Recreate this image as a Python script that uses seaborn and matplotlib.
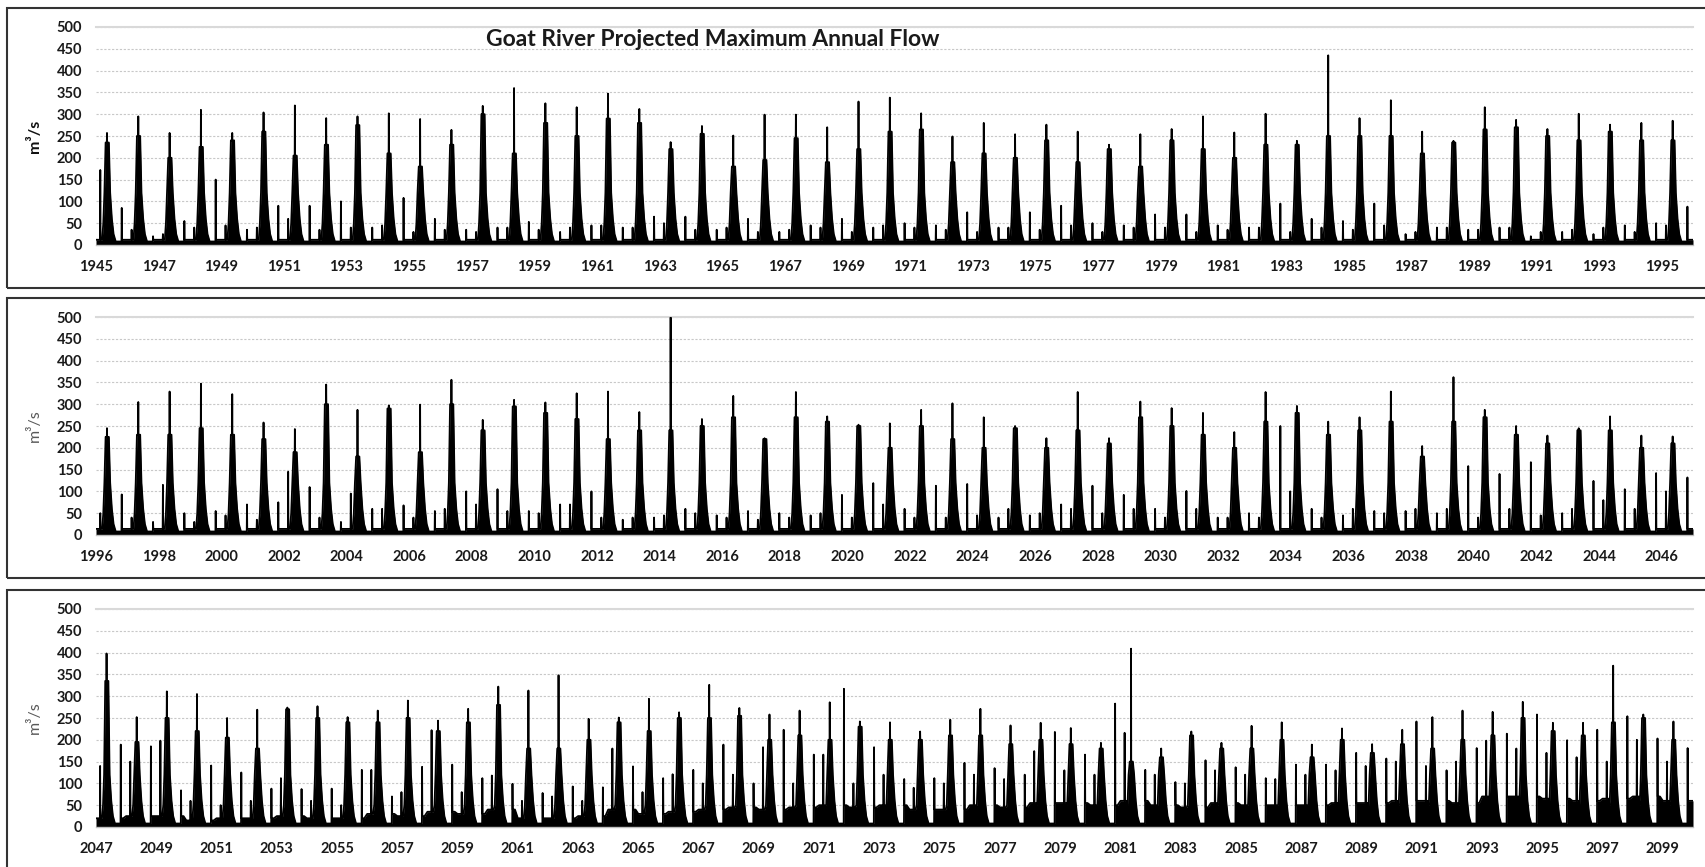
import numpy as np
import pandas as pd
import matplotlib
matplotlib.use("Agg")
import matplotlib.pyplot as plt
from matplotlib.patches import Rectangle
import seaborn as sns

# ---- values (m3/s), one per year ----
years_1 = list(range(1945, 1996))
peak_1 = [257, 295, 257, 310, 257, 304, 320, 291, 295, 302,
          289, 264, 319, 360, 325, 316, 347, 312, 236, 273,
          251, 299, 299, 270, 329, 338, 302, 249, 280, 254,
          276, 260, 230, 254, 266, 295, 258, 301, 239, 435,
          291, 332, 260, 239, 316, 287, 266, 301, 276, 280,
          285]
body_1 = [235, 250, 200, 225, 240, 260, 205, 230, 275, 210,
          180, 230, 300, 210, 280, 250, 290, 280, 220, 255,
          180, 195, 245, 190, 220, 260, 265, 190, 210, 200,
          240, 190, 220, 180, 240, 220, 200, 230, 230, 250,
          250, 250, 210, 235, 265, 270, 250, 240, 260, 240,
          240]
early_1 = [172, 35, 25, 40, 45, 40, 60, 35, 40, 45,
           30, 35, 30, 40, 35, 40, 45, 40, 50, 35,
           40, 30, 35, 40, 30, 45, 40, 35, 30, 40,
           35, 45, 30, 40, 40, 30, 35, 40, 30, 40,
           35, 45, 30, 40, 35, 40, 30, 35, 40, 30,
           45]
late_1 = [85, 20, 55, 150, 35, 90, 90, 100, 40, 108,
          60, 35, 40, 53, 30, 45, 40, 65, 65, 35,
          60, 30, 45, 60, 40, 50, 45, 75, 40, 75,
          90, 50, 45, 70, 70, 45, 40, 95, 60, 55,
          95, 25, 40, 35, 40, 20, 30, 25, 45, 50,
          88]
winter_1 = 12

years_2 = list(range(1996, 2047))
peak_2 = [245, 305, 329, 347, 323, 258, 243, 345, 287, 297,
          299, 356, 264, 310, 304, 325, 329, 282, 499, 266,
          319, 222, 328, 272, 253, 256, 287, 302, 270, 250,
          222, 328, 222, 306, 291, 280, 236, 328, 296, 260,
          270, 329, 204, 362, 287, 250, 228, 245, 272, 228,
          226]
body_2 = [225, 230, 230, 245, 230, 220, 190, 300, 180, 290,
          190, 300, 240, 295, 280, 266, 220, 240, 240, 250,
          270, 220, 270, 260, 250, 200, 250, 220, 200, 245,
          200, 240, 210, 270, 250, 230, 200, 260, 280, 230,
          240, 260, 180, 260, 270, 230, 210, 240, 240, 200,
          210]
early_2 = [50, 40, 115, 30, 45, 35, 145, 40, 95, 60,
           40, 60, 70, 55, 50, 70, 40, 40, 45, 50,
           40, 35, 40, 50, 40, 70, 40, 40, 45, 60,
           50, 60, 50, 60, 40, 60, 40, 40, 100, 40,
           60, 50, 60, 60, 40, 60, 45, 60, 80, 60,
           100]
late_2 = [93, 30, 50, 55, 70, 75, 110, 30, 60, 68,
          55, 100, 105, 55, 70, 100, 35, 40, 60, 45,
          55, 50, 45, 92, 119, 60, 113, 117, 40, 45,
          70, 113, 92, 60, 101, 40, 50, 250, 60, 45,
          55, 55, 50, 158, 140, 167, 50, 124, 105, 142,
          132]
winter_2 = 14

years_3 = list(range(2047, 2100))
peak_3 = [398, 252, 311, 305, 250, 269, 274, 277, 252, 267,
          290, 244, 271, 322, 313, 348, 248, 251, 294, 263,
          326, 273, 258, 267, 286, 242, 240, 219, 246, 271,
          233, 239, 227, 193, 409, 180, 219, 193, 232, 240,
          189, 226, 190, 223, 252, 267, 264, 287, 239, 239,
          370, 258, 242]
body_3 = [335, 195, 250, 220, 205, 180, 270, 250, 240, 240,
          250, 220, 240, 280, 180, 180, 200, 240, 220, 250,
          250, 255, 200, 210, 200, 230, 200, 200, 210, 210,
          190, 200, 190, 180, 150, 160, 210, 180, 180, 200,
          160, 200, 170, 190, 180, 200, 210, 250, 220, 210,
          240, 250, 200]
early_3 = [140, 150, 198, 60, 50, 60, 112, 60, 50, 131,
           80, 222, 80, 118, 60, 70, 60, 180, 80, 121,
           100, 120, 183, 100, 166, 100, 120, 90, 100, 120,
           110, 174, 130, 120, 216, 120, 100, 130, 120, 110,
           120, 130, 140, 150, 140, 150, 198, 180, 170, 160,
           150, 200, 150]
late_3 = [189, 185, 84, 141, 125, 88, 87, 88, 131, 70,
          138, 143, 112, 99, 78, 93, 91, 139, 112, 131,
          189, 100, 223, 166, 317, 183, 110, 112, 147, 135,
          120, 218, 166, 283, 131, 103, 153, 137, 112, 143,
          143, 170, 157, 242, 130, 181, 214, 258, 199, 223,
          254, 203, 181]
winter_3 = [20, 25, 25, 15, 20, 20, 25, 20, 20, 30,
            25, 35, 30, 40, 20, 20, 25, 40, 30, 35,
            40, 45, 40, 45, 50, 45, 50, 40, 40, 50,
            45, 55, 55, 50, 60, 50, 45, 55, 50, 50,
            50, 55, 55, 60, 60, 55, 70, 70, 65, 60,
            65, 70, 60]

# typical flows between events
spring_flow = 50
shoulder_flow = 120
recess_flow = 60
summer_flow = 25
low_flow = 8

# day of year of each reading within a water year
anchor_days = [0, 30, 47, 50, 53, 72, 85, 98, 112, 126, 128, 130,
               150, 165, 185, 205, 230, 297, 300, 303, 330]
anchor_kind = ["winter", "winter", "winter", "early", "winter", "winter",
               "spring", "shoulder", "body", "body", "peak", "body",
               "body", "shoulder", "recess", "summer", "low", "low",
               "late", "winter", "winter"]


def build_series(years, peak, body, early, late, winter):
    winter = np.broadcast_to(winter, len(years))
    rows = []
    for i, yr in enumerate(years):
        vals = {"winter": winter[i], "early": early[i], "body": body[i],
                "peak": peak[i], "late": late[i], "spring": spring_flow,
                "shoulder": shoulder_flow, "recess": recess_flow,
                "summer": summer_flow, "low": low_flow}
        for d, k in zip(anchor_days, anchor_kind):
            rows.append((yr + d / 365.0, vals[k]))
    rows.append((years[-1] + 1, winter[-1]))
    return pd.DataFrame(rows, columns=["year", "flow"])


panels = [
    (build_series(years_1, peak_1, body_1, early_1, late_1, winter_1), 1945, 1996),
    (build_series(years_2, peak_2, body_2, early_2, late_2, winter_2), 1996, 2047),
    (build_series(years_3, peak_3, body_3, early_3, late_3, winter_3), 2047, 2100),
]

sns.set_theme(style="white")
plt.rcParams["font.family"] = ["Lato", "DejaVu Sans"]

W, H = 1706, 867
fig = plt.figure(figsize=(W / 100, H / 100), dpi=100)

# plot area: (top px, bottom px) of each panel, and the panel frames
plot_rows = [(27, 245), (317, 535), (609, 827)]
frames = [(8, 288), (298, 578), (590, 880)]

for i, ((df, x0, x1), (top, bot), (ft, fb)) in enumerate(zip(panels, plot_rows, frames)):
    ax = fig.add_axes([96 / W, 1 - bot / H, 1597 / W, (bot - top) / H])
    ax.yaxis.grid(True, color="#c8c8c8", linestyle=(0, (2, 1.5)), linewidth=0.8)
    ax.set_axisbelow(True)
    ax.fill_between(df["year"], 0, df["flow"], color="black", linewidth=0, zorder=2)
    sns.lineplot(data=df, x="year", y="flow", ax=ax, color="black",
                 linewidth=1.3, estimator=None, sort=False, zorder=3)
    ax.set_xlim(x0, x1)
    ax.set_ylim(0, 500)
    ax.set_yticks(range(0, 501, 50))
    xt = list(range(x0, x1, 2))
    ax.set_xticks(xt)
    ax.set_xticklabels([str(t) for t in xt])
    for side in ["left", "right"]:
        ax.spines[side].set_visible(False)
    ax.spines["bottom"].set_color("#bfbfbf")
    ax.spines["bottom"].set_linewidth(1.0)
    ax.spines["top"].set_color("#d9d9d9")
    ax.spines["top"].set_linewidth(1.5)
    ax.tick_params(axis="y", length=0, pad=10, labelsize=10.5, labelcolor="#1a1a1a")
    ax.tick_params(axis="x", length=4.5, width=0.8, color="#bfbfbf", direction="out",
                   pad=6, labelsize=10.5, labelcolor="#1a1a1a")
    for lab in ax.get_xticklabels() + ax.get_yticklabels():
        lab.set_fontweight("bold")
    ax.set_xlabel("")
    if i == 0:
        ax.set_ylabel("m³/s", fontsize=11.5, fontweight="bold", color="#111111")
    else:
        ax.set_ylabel("m³/s", fontsize=11.5, color="#595959")
    ax.yaxis.set_label_coords((42 - 96) / 1597, 0.5)

    fig.add_artist(Rectangle((7 / W, 1 - fb / H), 1.2, (fb - ft) / H,
                             transform=fig.transFigure, fill=False,
                             edgecolor="#333333", linewidth=1.5))

fig.text(713 / W, 1 - 40 / H, "Goat River Projected Maximum Annual Flow",
         ha="center", va="center", fontsize=16.5, fontweight="bold", color="#1a1a1a")

fig.savefig("out.png", dpi=100)
